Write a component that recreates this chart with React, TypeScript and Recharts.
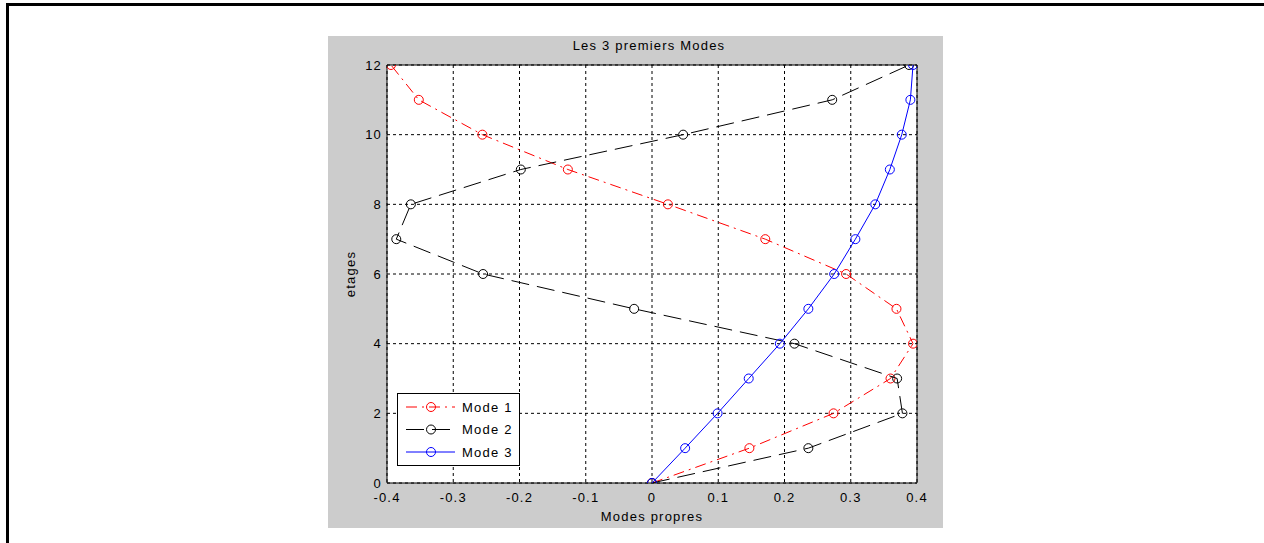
import React from 'react';
import { ScatterChart, Scatter, XAxis, YAxis, CartesianGrid, ReferenceArea, Legend, Label } from 'recharts';

// floors (y) and modal amplitudes (x)
const floors = [0, 1, 2, 3, 4, 5, 6, 7, 8, 9, 10, 11, 12];
const mode1 = [0, 0.147, 0.274, 0.36, 0.394, 0.369, 0.293, 0.171, 0.024, -0.127, -0.256, -0.352, -0.394];
const mode2 = [0, 0.236, 0.378, 0.37, 0.215, -0.027, -0.255, -0.386, -0.364, -0.198, 0.047, 0.272, 0.388];
const mode3 = [0, 0.05, 0.099, 0.146, 0.193, 0.236, 0.275, 0.307, 0.337, 0.359, 0.377, 0.39, 0.394];

const xTicks = [-0.4, -0.3, -0.2, -0.1, 0, 0.1, 0.2, 0.3, 0.4];
const yTicks = [0, 2, 4, 6, 8, 10, 12];
const seriesNames = ['Mode 1', 'Mode 2', 'Mode 3'];
const seriesColors = ['#ff0000', '#000000', '#0000ff'];
const seriesDash = ['11 5 2 5', '18 8', undefined];

const FONT = '"Liberation Sans", Arial, Helvetica, sans-serif';
const LS = 1.2;

const toPoints = (vals: number[]) => floors.map((f, i) => ({ x: vals[i], y: f }));
const seriesData = [toPoints(mode1), toPoints(mode2), toPoints(mode3)];

const circleShape = (color: string) => (props: any) => {
  const { cx, cy } = props;
  if (cx == null || cy == null) return <g />;
  return <circle cx={cx} cy={cy} r={4.5} fill="none" stroke={color} strokeWidth={1} />;
};

const YLabel = (props: any) => {
  const vb = props.viewBox;
  const x = vb.x + 18;
  const y = vb.y + vb.height / 2;
  return (
    <text x={x} y={y} transform={`rotate(-90, ${x}, ${y})`} textAnchor="middle" fontSize={13}
      fontFamily={FONT} letterSpacing={LS} fill="#000">
      etages
    </text>
  );
};

const LegendBox = () => (
  <div style={{ width: 123, height: 73, background: '#fff', border: '1px solid #000', boxSizing: 'border-box' }}>
    <svg width={121} height={71} style={{ display: 'block' }}>
      {seriesNames.map((name, i) => {
        const cy = 13 + i * 22.5;
        return (
          <g key={name}>
            <line x1={8} x2={57} y1={cy} y2={cy} stroke={seriesColors[i]} strokeWidth={1}
              strokeDasharray={seriesDash[i]} />
            <circle cx={33} cy={cy} r={4.5} fill="none" stroke={seriesColors[i]} />
            <text x={64} y={cy + 4.5} fontSize={13} fontFamily={FONT} letterSpacing={LS} fill="#000">{name}</text>
          </g>
        );
      })}
    </svg>
  </div>
);

export default function App() {
  return (
    <div style={{ position: 'absolute', left: 0, top: 0, width: 1264, height: 543, overflow: 'hidden', background: '#fff' }}>
      <div style={{ position: 'absolute', left: 6, top: 3, width: 2000, height: 2000, border: '3px solid #000' }} />
      <div style={{ position: 'absolute', left: 328, top: 36, width: 615, height: 492, background: '#cccccc' }}>
        <ScatterChart width={615} height={492} margin={{ top: 29, right: 26, left: 9, bottom: 0 }}
          style={{ fontFamily: FONT }}>
          <text x={321} y={14} textAnchor="middle" fontSize={13} fontFamily={FONT} letterSpacing={LS} fill="#000">
            Les 3 premiers Modes
          </text>
          <CartesianGrid stroke="#000" strokeDasharray="3 3" fill="#fff" />
          <XAxis type="number" dataKey="x" domain={[-0.4, 0.4]} ticks={xTicks} allowDataOverflow
            height={45} tickLine={false} axisLine={false} tickSize={6} tickMargin={4}
            tickFormatter={(v: number) => String(v)}
            tick={{ fontSize: 13, fill: '#000', letterSpacing: LS }}>
            <Label value="Modes propres" position="insideBottom" offset={7} fontSize={13}
              fill="#000" letterSpacing={LS} />
          </XAxis>
          <YAxis type="number" dataKey="y" domain={[0, 12]} ticks={yTicks} allowDataOverflow
            width={50} tickLine={false} axisLine={false} tickSize={3} tickMargin={2}
            tick={{ fontSize: 13, fill: '#000', letterSpacing: LS }}>
            <Label content={<YLabel />} />
          </YAxis>
          <ReferenceArea x1={-0.4} x2={0.4} y1={0} y2={12} fill="none" stroke="#000" strokeWidth={1} ifOverflow="visible" />
          {seriesData.map((pts, i) => (
            <Scatter key={seriesNames[i]} name={seriesNames[i]} data={pts} fill={seriesColors[i]}
              line={{ stroke: seriesColors[i], strokeWidth: 1, strokeDasharray: seriesDash[i] }}
              lineType="joint" shape={circleShape(seriesColors[i])} isAnimationActive={false} />
          ))}
          <Legend layout="horizontal" verticalAlign="middle" align="center" content={<LegendBox />}
            wrapperStyle={{ left: 69, top: 357, width: 123, height: 73 }} />
        </ScatterChart>
      </div>
    </div>
  );
}
